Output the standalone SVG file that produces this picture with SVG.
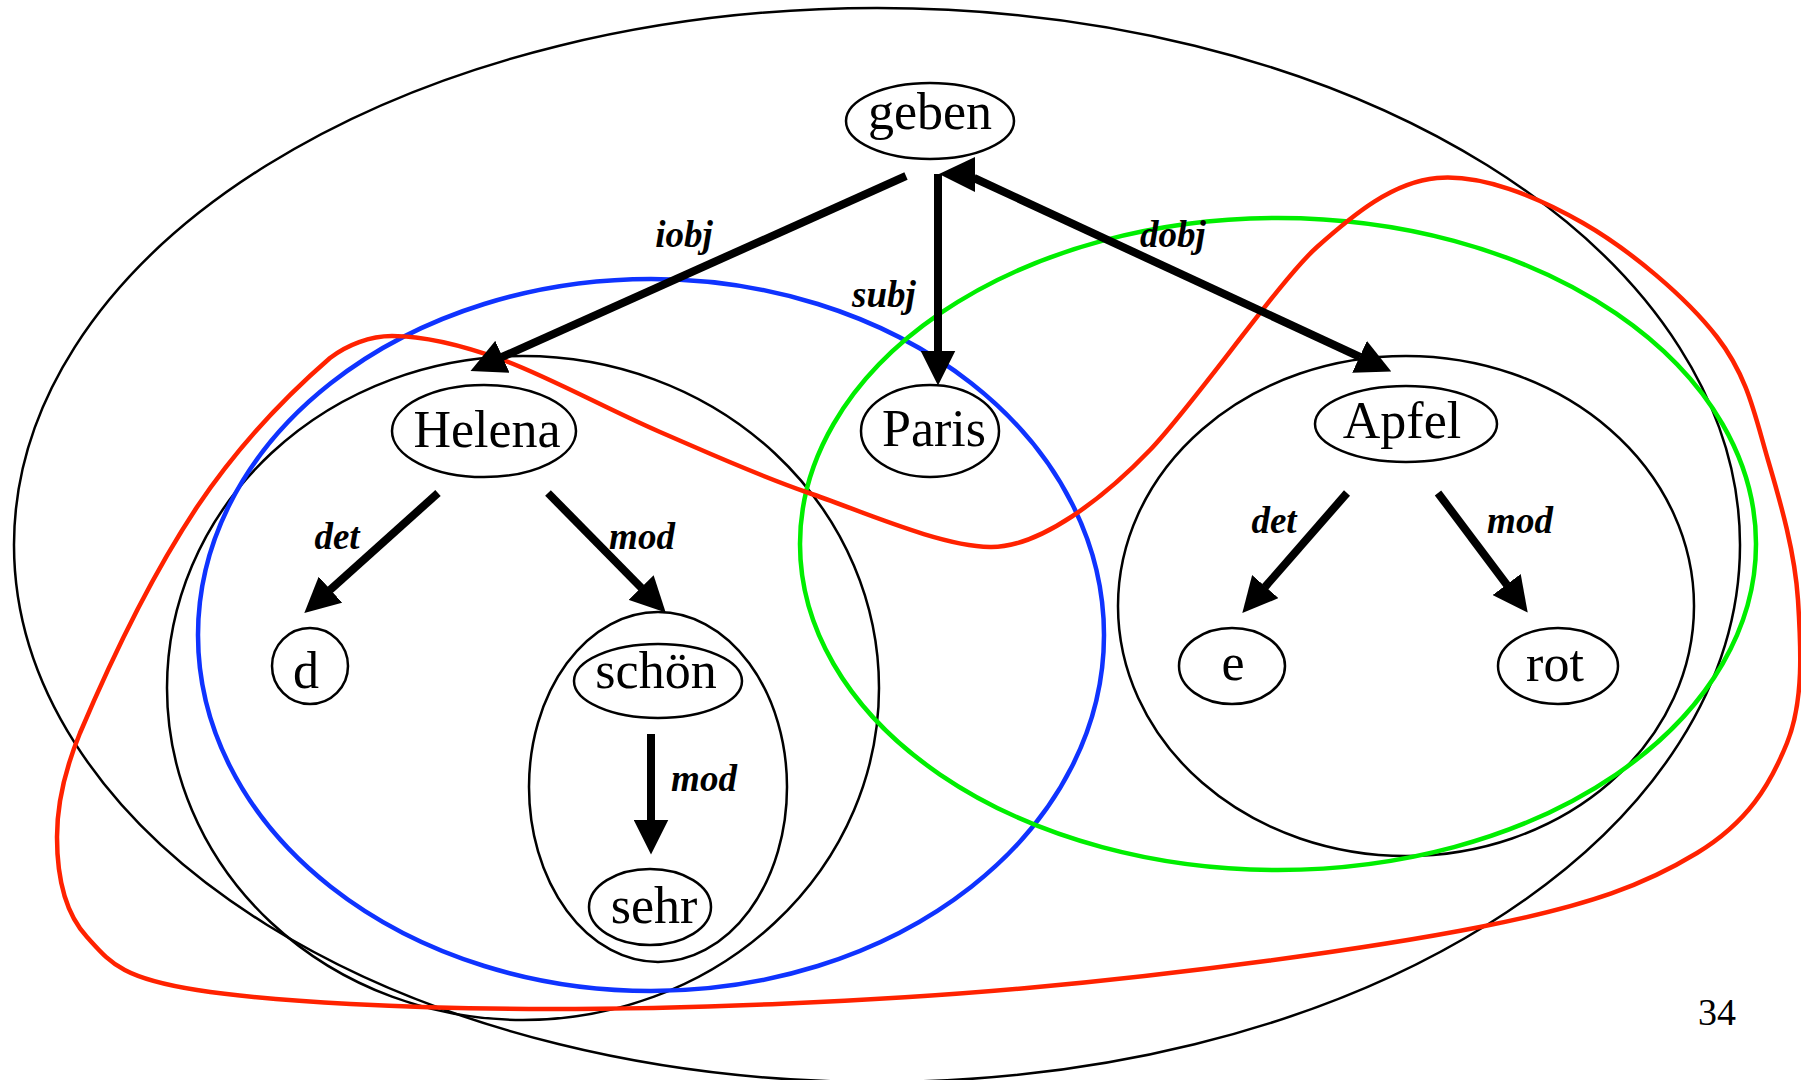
<svg xmlns="http://www.w3.org/2000/svg" width="1801" height="1080" viewBox="0 0 1801 1080">
  <style>
    .word { font-family: "Liberation Serif", "Times New Roman", serif; font-size: 52px; fill: #000; text-anchor: middle; }
    .rel { font-family: "Liberation Serif", "Times New Roman", serif; font-size: 37px; font-weight: bold; font-style: italic; fill: #000; text-anchor: middle; }
    .pageno { font-family: "Liberation Serif", "Times New Roman", serif; font-size: 38px; fill: #000; }
    .node { fill: #fff; stroke: #000; stroke-width: 2.5; }
    .phrase { fill: none; stroke: #000; stroke-width: 2.5; }
    .edge { stroke: #000; stroke-width: 8; fill: none; marker-end: url(#head); }
    .blue { fill: none; stroke: #0f33ff; stroke-width: 4.5; }
    .green { fill: none; stroke: #00ee00; stroke-width: 4.5; }
    .red { fill: none; stroke: #ff2200; stroke-width: 4.5; }
  </style>
  <defs>
    <marker id="head" markerUnits="userSpaceOnUse" viewBox="0 0 35 35" markerWidth="35" markerHeight="35" refX="0.5" refY="17.5" orient="auto">
      <path d="M0,0 L35,17.5 L0,35 Z" fill="#000"/>
    </marker>
  </defs>

  <rect width="1801" height="1080" fill="#fff"/>

  <!-- constituent outlines -->
  <g id="phrases">
    <ellipse id="sentence" class="phrase" cx="877" cy="545" rx="863" ry="537"/>
    <ellipse id="np-helena" class="phrase" cx="523" cy="688" rx="356" ry="332"/>
    <ellipse id="ap-schoen" class="phrase" cx="658" cy="787" rx="129" ry="175"/>
    <ellipse id="np-apfel" class="phrase" cx="1406" cy="606" rx="288" ry="250"/>
  </g>

  <!-- coloured groupings -->
  <g id="highlights">
    <ellipse id="blue-region" class="blue" cx="651" cy="635" rx="453" ry="356"/>
    <ellipse id="green-region" class="green" cx="1278" cy="544" rx="478" ry="326"/>
    <path id="red-region" class="red" d="M80,733
      C113,655 150,578 197,507
      C234,452 278,403 330,358
      C347,345 370,336 392,336
      C422,336 459,344 503,360
      C547,376 609,410 660,432
      C711,454 754,474 809,493
      C864,512 940,546 990,547
      C1040,548 1105,497 1150,450
      C1195,403 1280,280 1317,247
      C1354,214 1393,182 1437,178
      C1481,174 1536,196 1583,223
      C1630,250 1686,297 1717,337
      C1748,377 1755,416 1768,460
      C1781,504 1795,553 1798,600
      C1801,647 1804,701 1787,743
      C1770,785 1748,822 1697,853
      C1646,884 1592,905 1480,927
      C1368,949 1182,974 1027,988
      C872,1002 688,1009 550,1009
      C412,1009 274,1002 197,990
      C120,978 110,962 87,937
      C63,911 57,872 57,837
      C57,803 66,767 80,733 Z"/>
  </g>

  <!-- words -->
  <g id="geben"><ellipse class="node" cx="930" cy="121" rx="84" ry="38"/><text class="word" x="930" y="129">geben</text></g>
  <g id="helena"><ellipse class="node" cx="484" cy="431" rx="92" ry="46"/><text class="word" x="487" y="447">Helena</text></g>
  <g id="paris"><ellipse class="node" cx="930" cy="431" rx="69" ry="46"/><text class="word" x="934" y="446">Paris</text></g>
  <g id="apfel"><ellipse class="node" cx="1406" cy="424" rx="91" ry="38"/><text class="word" x="1402" y="438">Apfel</text></g>
  <g id="d"><ellipse class="node" cx="310" cy="666" rx="38" ry="38"/><text class="word" x="306" y="688">d</text></g>
  <g id="schoen"><ellipse class="node" cx="658" cy="681" rx="84" ry="37"/><text class="word" x="656" y="688">schön</text></g>
  <g id="sehr"><ellipse class="node" cx="650" cy="907" rx="61" ry="38"/><text class="word" x="654" y="923">sehr</text></g>
  <g id="e"><ellipse class="node" cx="1232" cy="666" rx="53" ry="38"/><text class="word" x="1233" y="680">e</text></g>
  <g id="rot"><ellipse class="node" cx="1558" cy="666" rx="60" ry="38"/><text class="word" x="1555" y="681">rot</text></g>

  <!-- dependency arrows -->
  <g id="connectors">
    <line class="edge" x1="906" y1="176" x2="502" y2="357"/>
    <line class="edge" x1="938" y1="174" x2="938" y2="351"/>
    <line class="edge" x1="974" y1="178" x2="1360" y2="357"/>
    <polygon points="939,174 975,157 975,192" fill="#000"/>
    <line class="edge" x1="438" y1="493" x2="330" y2="590"/>
    <line class="edge" x1="548" y1="493" x2="641.5" y2="588"/>
    <line class="edge" x1="651" y1="734" x2="651" y2="820"/>
    <line class="edge" x1="1347" y1="493" x2="1265" y2="587"/>
    <line class="edge" x1="1438" y1="493" x2="1507" y2="585"/>
  </g>

  <!-- relation labels -->
  <g id="labels">
    <text class="rel" x="684" y="247">iobj</text>
    <text class="rel" x="884" y="307">subj</text>
    <text class="rel" x="1173" y="247">dobj</text>
    <text class="rel" x="337" y="549">det</text>
    <text class="rel" x="642" y="549">mod</text>
    <text class="rel" x="704" y="791">mod</text>
    <text class="rel" x="1274" y="533">det</text>
    <text class="rel" x="1520" y="533">mod</text>
  </g>

  <text class="pageno" x="1698" y="1025">34</text>
</svg>
